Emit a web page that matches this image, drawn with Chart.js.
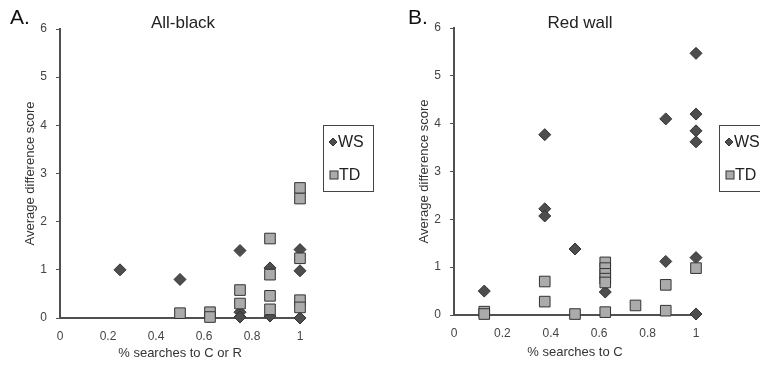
<!DOCTYPE html>
<html>
<head>
<meta charset="utf-8">
<script src="https://cdn.jsdelivr.net/npm/chart.js@4.4.0/dist/chart.umd.min.js"></script>
<style>
  html, body { margin: 0; padding: 0; background: #fff; }
  #wrap { position: relative; width: 760px; height: 367px; overflow: hidden; }
  canvas { position: absolute; top: 0; }
  #chartA { left: 0; }
  #chartB { left: 380px; }
</style>
</head>
<body>
<div id="wrap">
  <canvas id="chartA" width="380" height="367"></canvas>
  <canvas id="chartB" width="380" height="367"></canvas>
</div>
<script>
// tick labels
const xTicks = [0, 0.2, 0.4, 0.6, 0.8, 1];
const yTicks = [0, 1, 2, 3, 4, 5, 6];

// A. All-black
const wsAx = [0.25, 0.5, 0.75, 0.75, 0.75, 0.875, 0.875, 1, 1, 1];
const wsAy = [1.0, 0.8, 1.4, 0.12, 0.02, 1.04, 0.04, 1.42, 0.98, 0.0];
const tdAx = [0.5, 0.625, 0.625, 0.75, 0.75, 0.875, 0.875, 0.875, 0.875, 1, 1, 1, 1, 1];
const tdAy = [0.1, 0.12, 0.02, 0.58, 0.3, 1.65, 0.9, 0.46, 0.18, 2.7, 2.48, 1.24, 0.37, 0.22];

// B. Red wall
const wsBx = [0.125, 0.375, 0.375, 0.375, 0.5, 0.625, 0.875, 0.875, 1, 1, 1, 1, 1, 1];
const wsBy = [0.5, 3.77, 2.22, 2.07, 1.38, 0.48, 4.1, 1.12, 5.47, 4.2, 3.85, 3.62, 1.2, 0.02];
const tdBx = [0.125, 0.125, 0.375, 0.375, 0.5, 0.625, 0.625, 0.625, 0.625, 0.625, 0.625, 0.75, 0.875, 0.875, 1];
const tdBy = [0.07, 0.02, 0.7, 0.28, 0.02, 1.1, 0.98, 0.86, 0.76, 0.68, 0.06, 0.2, 0.63, 0.09, 0.98];

const FONT = '"Liberation Sans", Arial, sans-serif';
const WS_FILL = '#4d4d4d';
const TD_FILL = '#ababab';
const EDGE = '#333';

function toPoints(xs, ys) {
    return xs.map((v, i) => ({ x: v, y: ys[i] }));
}

// panel letter, title and the boxed legend
const panelDecor = {
    id: 'panelDecor',
    afterDatasetsDraw(chart, args, opts) {
        const ctx = chart.ctx;
        ctx.save();
        ctx.textBaseline = 'middle';
        ctx.textAlign = 'left';
        ctx.fillStyle = '#111';
        ctx.font = '21px ' + FONT;
        ctx.fillText(opts.letter, opts.letterX, 18);

        ctx.textAlign = 'center';
        ctx.fillStyle = '#222';
        ctx.font = '17px ' + FONT;
        ctx.fillText(opts.title, opts.titleX, 23);

        const lx = opts.legendX, ly = 125;
        ctx.fillStyle = '#fff';
        ctx.fillRect(lx, ly, 50, 66);
        ctx.strokeStyle = '#444';
        ctx.lineWidth = 1;
        ctx.strokeRect(lx + 0.5, ly + 0.5, 50, 66);

        ctx.textAlign = 'left';
        ctx.font = '16px ' + FONT;
        ctx.lineWidth = 1;
        ctx.strokeStyle = EDGE;

        // WS entry
        let cx = lx + 10, cy = ly + 17;
        ctx.fillStyle = WS_FILL;
        ctx.beginPath();
        ctx.moveTo(cx - 4, cy);
        ctx.lineTo(cx, cy - 4);
        ctx.lineTo(cx + 4, cy);
        ctx.lineTo(cx, cy + 4);
        ctx.closePath();
        ctx.fill();
        ctx.stroke();
        ctx.fillStyle = '#222';
        ctx.fillText('WS', cx + 5, cy + 1);

        // TD entry
        cx = lx + 11; cy = ly + 50;
        ctx.fillStyle = TD_FILL;
        ctx.fillRect(cx - 4, cy - 4, 8, 8);
        ctx.strokeRect(cx - 4, cy - 4, 8, 8);
        ctx.fillStyle = '#222';
        ctx.fillText('TD', cx + 5, cy + 1);
        ctx.restore();
    }
};

function makeChart(id, cfg) {
    const ctx = document.getElementById(id).getContext('2d');
    return new Chart(ctx, {
        type: 'scatter',
        data: {
            datasets: [{
                label: 'WS',
                data: toPoints(cfg.wsX, cfg.wsY),
                pointStyle: 'rectRot',
                pointRadius: 6,
                pointBackgroundColor: WS_FILL,
                pointBorderColor: EDGE,
                pointBorderWidth: 1,
                clip: false,
                order: 2,
            }, {
                label: 'TD',
                data: toPoints(cfg.tdX, cfg.tdY),
                pointStyle: 'rect',
                pointRadius: 7.5,
                pointBackgroundColor: TD_FILL,
                pointBorderColor: EDGE,
                pointBorderWidth: 1,
                clip: false,
                order: 1,
            }],
        },
        options: {
            responsive: false,
            animation: false,
            events: [],
            layout: { padding: { left: 0, top: cfg.top, right: cfg.right, bottom: 0 } },
            plugins: {
                legend: { display: false },
                tooltip: { enabled: false },
                panelDecor: cfg.decor,
            },
            scales: {
                x: {
                    type: 'linear',
                    min: 0,
                    max: 1,
                    afterBuildTicks: s => { s.ticks = xTicks.map(v => ({ value: v })); },
                    ticks: {
                        padding: 11,
                        color: '#444',
                        font: { family: FONT, size: 12 },
                        callback: v => String(Math.round(v * 10) / 10),
                    },
                    grid: { display: false, drawTicks: false },
                    border: { display: true, color: '#505050', width: 2 },
                    title: {
                        display: true,
                        text: cfg.xTitle,
                        color: '#333',
                        font: { family: FONT, size: 13 },
                        padding: { top: 0, bottom: cfg.xTitlePad },
                    },
                    afterFit: s => { s.height = cfg.xHeight; },
                },
                y: {
                    type: 'linear',
                    min: 0,
                    max: 6,
                    afterBuildTicks: s => { s.ticks = yTicks.map(v => ({ value: v })); },
                    ticks: {
                        padding: 9,
                        color: '#444',
                        font: { family: FONT, size: 12 },
                    },
                    grid: {
                        display: true,
                        drawOnChartArea: false,
                        drawTicks: true,
                        tickLength: 4,
                        color: '#505050',
                    },
                    border: { display: true, color: '#505050', width: 2 },
                    title: {
                        display: true,
                        text: 'Average difference score',
                        color: '#333',
                        font: { family: FONT, size: 13 },
                        padding: { top: cfg.yTitlePad, bottom: 0 },
                    },
                    afterFit: s => { s.width = cfg.yWidth; },
                },
            },
        },
        plugins: [panelDecor],
    });
}

makeChart('chartA', {
    wsX: wsAx, wsY: wsAy, tdX: tdAx, tdY: tdAy,
    top: 29, right: 80, yWidth: 60, xHeight: 49,
    xTitle: '% searches to C or R', xTitlePad: 6, yTitlePad: 23,
    decor: { letter: 'A.', letterX: 10, title: 'All-black', titleX: 183, legendX: 323 },
});

makeChart('chartB', {
    wsX: wsBx, wsY: wsBy, tdX: tdBx, tdY: tdBy,
    top: 28, right: 64, yWidth: 74, xHeight: 52,
    xTitle: '% searches to C', xTitlePad: 7, yTitlePad: 37,
    decor: { letter: 'B.', letterX: 28, title: 'Red wall', titleX: 200, legendX: 339 },
});
</script>
</body>
</html>
